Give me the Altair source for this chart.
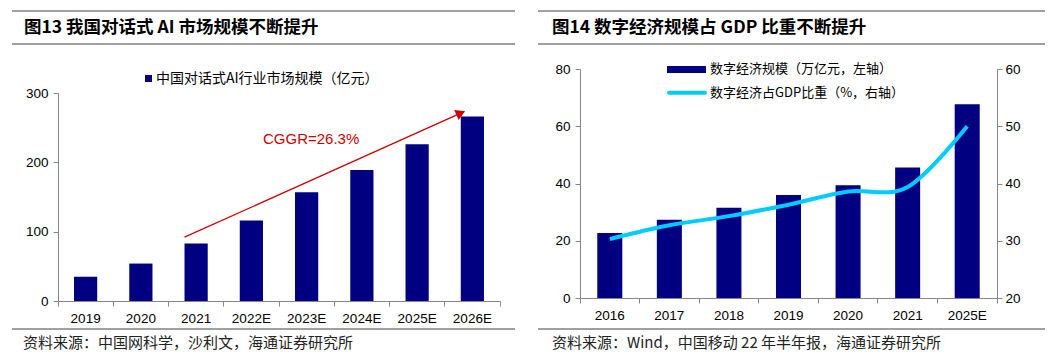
import altair as alt
import pandas as pd

# ---------------- data ----------------
ai_years = ["2019", "2020", "2021", "2022E", "2023E", "2024E", "2025E", "2026E"]
ai_market = [35, 54, 83, 116, 157, 189, 226, 266]
arrow_years = ["2021", "2026E"]
arrow_vals = [92, 271]

de_years = ["2016", "2017", "2018", "2019", "2020", "2021", "2025E"]
de_scale = [22.7, 27.3, 31.5, 36.0, 39.4, 45.6, 67.7]
de_share = [30.3, 32.7, 34.3, 36.3, 38.6, 39.4, 50.0]

titles = ["图13 我国对话式 AI 市场规模不断提升", "图14 数字经济规模占 GDP 比重不断提升"]
sources = ["资料来源：中国网科学，沙利文，海通证券研究所", "资料来源：Wind，中国移动 22 年半年报，海通证券研究所"]
legend_left = "中国对话式AI行业市场规模（亿元）"
legend_right = ["数字经济规模（万亿元，左轴）", "数字经济占GDP比重（%，右轴）"]
cagr_label = "CGGR=26.3%"

# ---------------- style ----------------
W, H = 1041, 344
NAVY = "#000080"
CYAN = "#00CCFF"
RED = "#D00000"
GRAY = "#808080"
CJK = "Noto Sans CJK SC"
LAT = "Liberation Sans"

axis_common = dict(domainColor="#868686", tickColor="#868686", labelColor="#000000",
                   labelFont=LAT, labelFontSize=13.5, tickSize=5, labelPadding=5,
                   grid=False, title=None)

one = pd.DataFrame({"k": [0]})


def txt(s, x, y, size, weight="normal", font=CJK, color="#000000"):
    return alt.Chart(one).mark_text(text=s, align="left", baseline="middle", font=font,
                                    fontSize=size, fontWeight=weight, color=color).encode(
        x=alt.value(x), y=alt.value(y))


def hline(x1, x2, y, color=GRAY, w=1.5):
    return alt.Chart(one).mark_rule(color=color, strokeWidth=w).encode(
        x=alt.value(x1), x2=alt.value(x2), y=alt.value(y))


# ---------------- left panel ----------------
left_df = pd.DataFrame({"cat": ai_years, "val": ai_market})
arrow_df = pd.DataFrame({"cat": arrow_years, "val": arrow_vals})
head_df = pd.DataFrame({"cat": arrow_years[-1:], "val": arrow_vals[-1:]})

xL = alt.Scale(domain=ai_years, range=[50, 492], paddingInner=0, paddingOuter=0)
yL = alt.Scale(domain=[0, 300], range=[293, 85])
axLx = alt.Axis(orient="bottom", offset=-51, bandPosition=1, tickExtra=True, labelAngle=0, **axis_common)
axLy = alt.Axis(orient="left", offset=-50, values=[0, 100, 200, 300], **axis_common)

left_bars = alt.Chart(left_df).mark_bar(color=NAVY, width={"band": 0.42}).encode(
    x=alt.X("cat:N", scale=xL, sort=None, axis=axLx),
    y=alt.Y("val:Q", scale=yL, axis=axLy),
)

arrow = alt.Chart(arrow_df).mark_line(color=RED, strokeWidth=1.3).encode(
    x=alt.X("cat:N", scale=xL, sort=None, bandPosition=0.29, axis=axLx),
    y=alt.Y("val:Q", scale=yL, axis=axLy),
)

head = alt.Chart(head_df).mark_point(shape="triangle-right", filled=True, size=120, angle=336,
                                      color=RED, opacity=1).encode(
    x=alt.X("cat:N", scale=xL, sort=None, bandPosition=0.29, axis=axLx),
    y=alt.Y("val:Q", scale=yL, axis=axLy),
)

left = alt.layer(left_bars, arrow, head)

# ---------------- right panel ----------------
right_df = pd.DataFrame({"cat": de_years, "scale": de_scale, "share": de_share})
xR = alt.Scale(domain=de_years, range=[572, 989], paddingInner=0, paddingOuter=0)
yR1 = alt.Scale(domain=[0, 80], range=[290, 61])
yR2 = alt.Scale(domain=[20, 60], range=[290, 61])
axRx = alt.Axis(orient="bottom", offset=-54, bandPosition=1, tickExtra=True, labelAngle=0, **axis_common)

right_bars = alt.Chart(right_df).mark_bar(color=NAVY, width={"band": 0.42}).encode(
    x=alt.X("cat:N", scale=xR, sort=None, axis=axRx),
    y=alt.Y("scale:Q", scale=yR1,
            axis=alt.Axis(orient="left", offset=-572, values=[0, 20, 40, 60, 80], **axis_common)),
)

right_line = alt.Chart(right_df).mark_line(color=CYAN, strokeWidth=4, interpolate="cardinal").encode(
    x=alt.X("cat:N", scale=xR, sort=None, axis=axRx),
    y=alt.Y("share:Q", scale=yR2,
            axis=alt.Axis(orient="right", offset=-52, values=[20, 30, 40, 50, 60],
                          **dict(axis_common, labelPadding=3))),
)

right = alt.layer(right_bars, right_line).resolve_scale(y="independent")

# ---------------- decorations ----------------
decor = [
    hline(4, 507, 3), hline(4, 507, 36), hline(530, 1037, 3), hline(530, 1037, 36),
    hline(4, 507, 321), hline(530, 1037, 321),
    txt(titles[0], 16, 20, 17.5, weight="bold"),
    txt(titles[1], 544, 20, 17.5, weight="bold"),
    txt(sources[0], 15, 335, 15, color="#222222"),
    txt(sources[1], 544, 335, 15, color="#222222"),
    # left legend
    alt.Chart(one).mark_rect(color=NAVY).encode(
        x=alt.value(137), x2=alt.value(144), y=alt.value(67), y2=alt.value(74)),
    txt(legend_left, 148, 70.5, 14),
    # right legend
    alt.Chart(one).mark_rect(color=NAVY).encode(
        x=alt.value(659), x2=alt.value(698), y=alt.value(58), y2=alt.value(65)),
    txt(legend_right[0], 702, 61, 13),
    alt.Chart(one).mark_rule(color=CYAN, strokeWidth=4, strokeCap="round").encode(
        x=alt.value(661), x2=alt.value(697), y=alt.value(84.7)),
    txt(legend_right[1], 702, 84.7, 13),
    # CAGR label
    txt(cagr_label, 255, 131, 15, font=LAT, color=RED),
]

chart = alt.layer(left, right, *decor).resolve_scale(x="independent", y="independent").properties(
    width=W, height=H, autosize=alt.AutoSizeParams(type="none"), padding=0,
).configure_view(strokeWidth=0)

chart.save("out.html", embed_options={"renderer": "svg", "actions": False})
